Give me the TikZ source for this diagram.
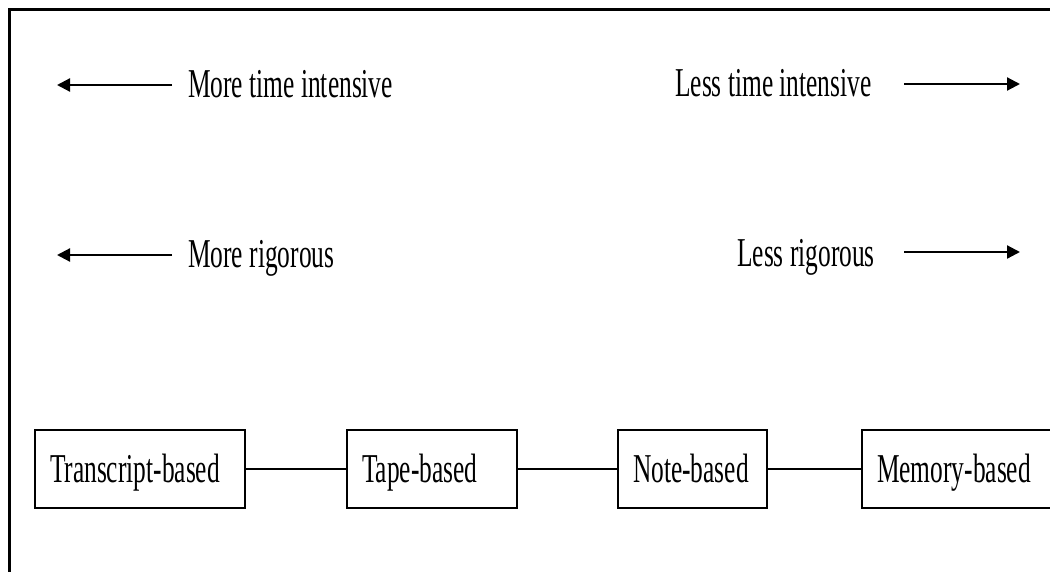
\documentclass[tikz,border=0pt]{standalone}
\usepackage{fontspec}
\setmainfont{Liberation Serif}[FakeStretch=0.62]
\usetikzlibrary{arrows.meta}
\begin{document}
\begin{tikzpicture}[x=1pt,y=-1pt,
  lbl/.style={inner sep=0pt,anchor=base west,font=\fontsize{41}{41}\selectfont},
  arr/.style={line width=2.2pt,-{Triangle[length=13pt,width=13pt]}},
  box/.style={draw,line width=2pt,anchor=north west,inner xsep=15pt,inner ysep=0pt,
    minimum height=78pt,text height=27pt,text depth=0pt,align=left,
    font=\fontsize{41}{41}\selectfont},
  link/.style={line width=2pt}]
\useasboundingbox (0,0) rectangle (1050,571);
\clip (0,0) rectangle (1050,571);
\draw[line width=2.2pt] (9.5,9.5) rectangle (1070,590);
% row 1
\coordinate (a1s) at (172,85);
\coordinate (a1e) at (57,85);
\draw[arr] (a1s) -- (a1e);
\node[lbl] (mti) at (188,97) {More time intensive};
\node[lbl] (lti) at (675,96) {Less time intensive};
\coordinate (a2s) at (904,84);
\coordinate (a2e) at (1020,84);
\draw[arr] (a2s) -- (a2e);
% row 2
\coordinate (b1s) at (172,255);
\coordinate (b1e) at (57,255);
\draw[arr] (b1s) -- (b1e);
\node[lbl] (mr) at (188,267) {More rigorous};
\node[lbl] (lr) at (737,266) {Less rigorous};
\coordinate (b2s) at (904,252);
\coordinate (b2e) at (1020,252);
\draw[arr] (b2s) -- (b2e);
% boxes
\node[box,text width=180pt] (t1) at (34,429) {Transcript-based};
\node[box,text width=140pt] (t2) at (346,429) {Tape-based};
\node[box,text width=119pt] (t3) at (617,429) {Note-based};
\node[box,text width=175pt] (t4) at (861,429) {Memory-based};
\draw[link] (t1.east) -- (t2.west);
\draw[link] (t2.east) -- (t3.west);
\draw[link] (t3.east) -- (t4.west);
\end{tikzpicture}
\end{document}
